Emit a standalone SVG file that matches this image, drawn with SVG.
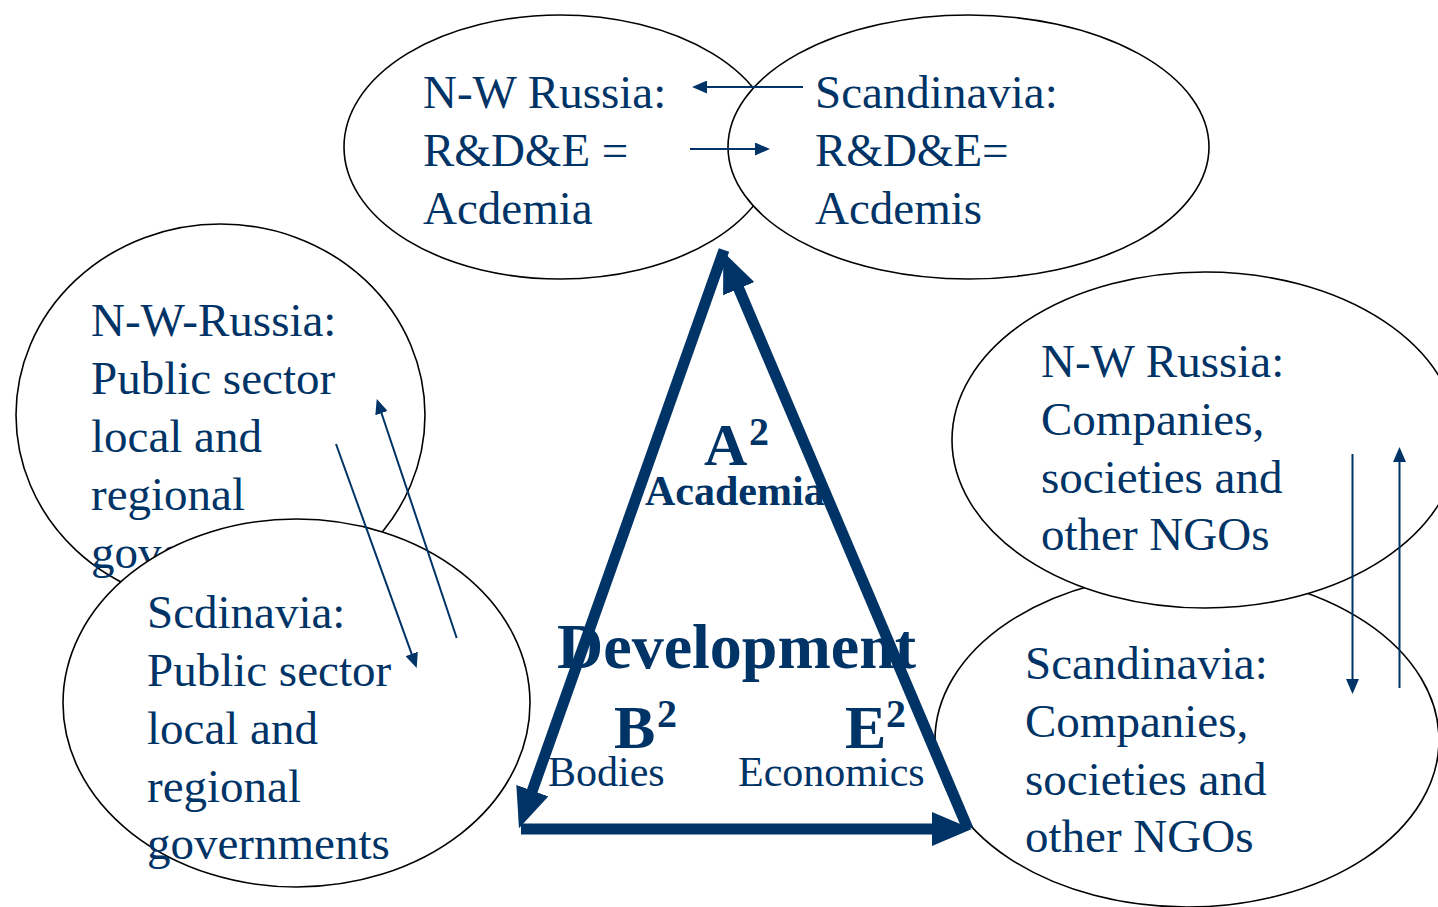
<svg xmlns="http://www.w3.org/2000/svg" width="1438" height="907" viewBox="0 0 1438 907">
  <style>
    .ell { fill: #ffffff; stroke: #000000; stroke-width: 1.6; }
    .t { font-family: "Liberation Serif", "Times New Roman", serif; font-size: 47px; fill: #003366; }
    .tb { font-family: "Liberation Serif", "Times New Roman", serif; font-weight: bold; fill: #003366; }
    .tr { font-family: "Liberation Serif", "Times New Roman", serif; fill: #003366; }
    .thin { stroke: #003366; stroke-width: 2; fill: none; marker-end: url(#small); }
    .thick { stroke: #003366; stroke-width: 11; fill: none; marker-end: url(#big); }
  </style>
  <defs>
    <marker id="small" viewBox="0 0 15 13" markerUnits="userSpaceOnUse" markerWidth="15" markerHeight="13" refX="12" refY="6.5" orient="auto">
      <path d="M0,0 L15,6.5 L0,13 Z" fill="#003366"/>
    </marker>
    <marker id="big" viewBox="0 0 40 34" markerUnits="userSpaceOnUse" markerWidth="40" markerHeight="34" refX="10" refY="17" orient="auto">
      <path d="M0,0 L40,17 L0,34 Z" fill="#003366"/>
    </marker>
  </defs>
  <rect x="0" y="0" width="1438" height="907" fill="#ffffff"/>

  <g id="node-nw-russia-academia">
    <ellipse class="ell" cx="560" cy="147" rx="216" ry="132"/>
    <text class="t" x="423" y="108">N-W Russia:</text>
    <text class="t" x="423" y="166">R&amp;D&amp;E =</text>
    <text class="t" x="423" y="224">Acdemia</text>
  </g>

  <g id="node-scandinavia-academia">
    <ellipse class="ell" cx="968.5" cy="147" rx="240.5" ry="132"/>
    <text class="t" x="815" y="108">Scandinavia:</text>
    <text class="t" x="815" y="166">R&amp;D&amp;E=</text>
    <text class="t" x="815" y="224">Acdemis</text>
  </g>

  <g id="node-nw-russia-public">
    <ellipse class="ell" cx="220.5" cy="415" rx="204.5" ry="191"/>
    <text class="t" x="91" y="336">N-W-Russia:</text>
    <text class="t" x="91" y="394">Public sector</text>
    <text class="t" x="91" y="452">local and</text>
    <text class="t" x="91" y="510">regional</text>
    <text class="t" x="91" y="568">governments</text>
  </g>

  <g id="node-scandinavia-public">
    <ellipse class="ell" cx="296.5" cy="703" rx="233.5" ry="184"/>
    <text class="t" x="147" y="628">Scdinavia:</text>
    <text class="t" x="147" y="686">Public sector</text>
    <text class="t" x="147" y="744">local and</text>
    <text class="t" x="147" y="802">regional</text>
    <text class="t" x="147" y="859">governments</text>
  </g>

  <g id="node-scandinavia-companies">
    <ellipse class="ell" cx="1187" cy="740" rx="252" ry="167"/>
    <text class="t" x="1025" y="679">Scandinavia:</text>
    <text class="t" x="1025" y="737">Companies,</text>
    <text class="t" x="1025" y="795">societies and</text>
    <text class="t" x="1025" y="852">other NGOs</text>
  </g>

  <g id="node-nw-russia-companies">
    <ellipse class="ell" cx="1205" cy="440" rx="253" ry="168"/>
    <text class="t" x="1041" y="377">N-W Russia:</text>
    <text class="t" x="1041" y="435">Companies,</text>
    <text class="t" x="1041" y="493">societies and</text>
    <text class="t" x="1041" y="550">other NGOs</text>
  </g>

  <g id="triangle">
    <line class="thick" x1="968" y1="829" x2="734.9" y2="279.5"/>
    <line class="thick" x1="724" y1="250" x2="529" y2="800"/>
    <line class="thick" x1="521" y1="829" x2="942" y2="829"/>
    <text class="tb" x="704" y="465" font-size="60">A</text>
    <text class="tb" x="749" y="445" font-size="40">2</text>
    <text class="tb" x="645" y="505" font-size="42">Academia</text>
    <text class="tb" x="557" y="668" font-size="64">Development</text>
    <text class="tb" x="614" y="748" font-size="62">B</text>
    <text class="tb" x="657" y="727" font-size="40">2</text>
    <text class="tr" x="548" y="786" font-size="42">Bodies</text>
    <text class="tb" x="845" y="748" font-size="62">E</text>
    <text class="tb" x="886" y="727" font-size="40">2</text>
    <text class="tr" x="738" y="786" font-size="42">Economics</text>
  </g>

  <g id="connectors">
    <line class="thin" x1="803" y1="87" x2="695" y2="87"/>
    <line class="thin" x1="690" y1="149" x2="767" y2="149"/>
    <line class="thin" x1="336" y1="444" x2="415.7" y2="665.2"/>
    <line class="thin" x1="456.7" y1="638" x2="377.7" y2="401.8"/>
    <line class="thin" x1="1352.5" y1="454" x2="1352.5" y2="691"/>
    <line class="thin" x1="1399.5" y1="688" x2="1399.5" y2="450"/>
  </g>
</svg>
